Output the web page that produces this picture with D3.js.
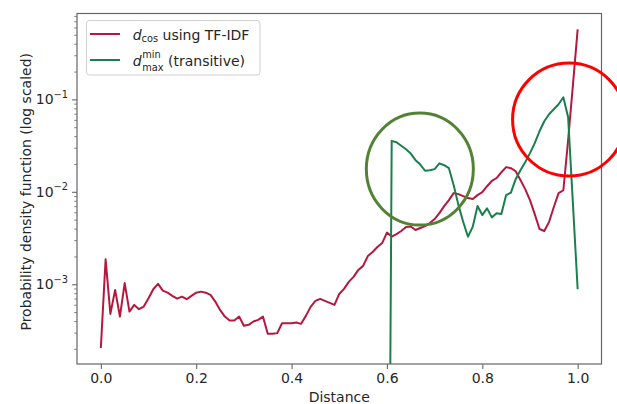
<!DOCTYPE html>
<html>
<head>
<meta charset="utf-8">
<script src="https://cdn.jsdelivr.net/npm/d3@7"></script>
<style>
  body { margin: 0; background: #fff; }
  svg { display: block; font-family: "DejaVu Sans", sans-serif; }
</style>
</head>
<body>
<svg id="svg" width="617" height="404"></svg>
<script>
// distance grid of the TF-IDF cosine curve (0.00 .. 1.00)
const distCos = [
  0.00, 0.01, 0.02, 0.03, 0.04, 0.05, 0.06, 0.07, 0.08, 0.09,
  0.10, 0.11, 0.12, 0.13, 0.14, 0.15, 0.16, 0.17, 0.18, 0.19,
  0.20, 0.21, 0.22, 0.23, 0.24, 0.25, 0.26, 0.27, 0.28, 0.29,
  0.30, 0.31, 0.32, 0.33, 0.34, 0.35, 0.36, 0.37, 0.38, 0.39,
  0.40, 0.41, 0.42, 0.43, 0.44, 0.45, 0.46, 0.47, 0.48, 0.49,
  0.50, 0.51, 0.52, 0.53, 0.54, 0.55, 0.56, 0.57, 0.58, 0.59,
  0.60, 0.61, 0.62, 0.63, 0.64, 0.65, 0.66, 0.67, 0.68, 0.69,
  0.70, 0.71, 0.72, 0.73, 0.74, 0.75, 0.76, 0.77, 0.78, 0.79,
  0.80, 0.81, 0.82, 0.83, 0.84, 0.85, 0.86, 0.87, 0.88, 0.89,
  0.90, 0.91, 0.92, 0.93, 0.94, 0.95, 0.96, 0.97, 0.98, 0.99,
  1.00
];
// pdf of d_cos using TF-IDF
const pdfCos = [
  2.04e-4, 1.86e-3, 4.78e-4, 8.68e-4, 4.47e-4, 1.03e-3, 5.06e-4, 5.98e-4, 5.37e-4, 5.73e-4,
  7.06e-4, 8.83e-4, 1.01e-3, 8.53e-4, 8.11e-4, 7.48e-4, 6.99e-4, 7.35e-4, 6.89e-4, 7.48e-4,
  8.11e-4, 8.32e-4, 8.11e-4, 7.66e-4, 6.49e-4, 5.28e-4, 4.47e-4, 4.05e-4, 4.05e-4, 4.47e-4,
  3.55e-4, 3.64e-4, 3.95e-4, 4.12e-4, 4.47e-4, 2.91e-4, 2.91e-4, 2.96e-4, 3.79e-4, 3.78e-4,
  3.79e-4, 3.85e-4, 3.73e-4, 4.55e-4, 5.69e-4, 6.60e-4, 6.94e-4, 6.60e-4, 6.28e-4, 5.98e-4,
  7.85e-4, 8.90e-4, 1.06e-3, 1.20e-3, 1.43e-3, 1.58e-3, 2.02e-3, 2.23e-3, 2.53e-3, 2.79e-3,
  3.62e-3, 3.28e-3, 3.49e-3, 3.77e-3, 4.16e-3, 4.21e-3, 3.86e-3, 4.06e-3, 4.26e-3, 4.59e-3,
  5.07e-3, 5.89e-3, 7.01e-3, 8.14e-3, 9.68e-3, 9.44e-3, 8.99e-3, 8.55e-3, 8.34e-3, 9.21e-3,
  9.93e-3, 1.15e-2, 1.31e-2, 1.41e-2, 1.63e-2, 1.85e-2, 1.80e-2, 1.67e-2, 1.34e-2, 1.07e-2,
  8.14e-3, 5.74e-3, 3.96e-3, 3.77e-3, 4.71e-3, 6.84e-3, 9.68e-3, 1.04e-2, 3.61e-2, 1.42e-1,
  5.71e-1
];

// distance grid of the transitive d_max^min curve (0.60 .. 1.00)
const distMax = [
  0.60, 0.61, 0.62, 0.63, 0.64, 0.65, 0.66, 0.67, 0.68, 0.69,
  0.70, 0.71, 0.72, 0.73, 0.74, 0.75, 0.76, 0.77, 0.78, 0.79,
  0.80, 0.81, 0.82, 0.83, 0.84, 0.85, 0.86, 0.87, 0.88, 0.89,
  0.90, 0.91, 0.92, 0.93, 0.94, 0.95, 0.96, 0.97, 0.98, 0.99,
  1.00
];
const pdfMax = [
  0,       3.56e-2, 3.44e-2, 3.15e-2, 2.89e-2, 2.59e-2, 2.20e-2, 1.97e-2, 1.69e-2, 1.71e-2,
  1.76e-2, 2.03e-2, 1.94e-2, 1.80e-2, 1.18e-2, 7.18e-3, 4.71e-3, 3.27e-3, 4.19e-3, 7.01e-3,
  5.60e-3, 6.62e-3, 5.29e-3, 5.85e-3, 5.74e-3, 9.21e-3, 9.80e-3, 1.37e-2, 1.71e-2, 2.09e-2,
  2.62e-2, 3.36e-2, 4.52e-2, 5.80e-2, 6.90e-2, 7.82e-2, 8.85e-2, 1.054e-1, 6.41e-2, 7.55e-3,
  8.83e-4
];

const xTicks = [0.0, 0.2, 0.4, 0.6, 0.8, 1.0];
const yMajorExp = [-3, -2, -1];
const legendLabels = ["cos", "using TF-IDF", "min", "max", "(transitive)"];

// hand-drawn highlight circles (data coords of centre, radii in px)
const highlights = [
  { x: 0.669, y: 0.0176, rx: 53.5, ry: 56, color: "#548235" },
  { x: 0.982, y: 0.0605, rx: 56.5, ry: 56.5, color: "#ff0000" }
];

const colCos = "#b5183f";
const colMax = "#1b7f4d";
const ink = "#262626";
const spineCol = "#666";

const svg = d3.select("#svg");
const plotLeft = 77, plotRight = 601.5, plotTop = 13.5, plotBottom = 364;

// matplotlib style 5% margins
const xScale = d3.scaleLinear().domain([-0.05, 1.05]).range([plotLeft, plotRight]);
const positives = pdfCos.concat(pdfMax).filter(v => v > 0);
const logExt = d3.extent(positives).map(Math.log10);
const pad = (logExt[1] - logExt[0]) * 0.05;
const yScale = d3
  .scaleLog()
  .domain([10 ** (logExt[0] - pad), 10 ** (logExt[1] + pad)])
  .range([plotBottom, plotTop]);

svg.append("defs")
  .append("clipPath")
  .attr("id", "plotclip")
  .append("rect")
  .attr("x", plotLeft)
  .attr("y", plotTop)
  .attr("width", plotRight - plotLeft)
  .attr("height", plotBottom - plotTop);

// non-positive values get pushed far below the axis, like mpl's clip
const floorVal = yScale.domain()[0] * 1e-6;
const line = d3
  .line()
  .x(d => xScale(d[0]))
  .y(d => yScale(Math.max(d[1], floorVal)));

const plot = svg.append("g").attr("clip-path", "url(#plotclip)");

plot.append("path")
  .attr("d", line(distCos.map((d, i) => [d, pdfCos[i]])))
  .attr("fill", "none")
  .attr("stroke", colCos)
  .attr("stroke-width", 2)
  .attr("stroke-linejoin", "round");

plot.append("path")
  .attr("d", line(distMax.map((d, i) => [d, pdfMax[i]])))
  .attr("fill", "none")
  .attr("stroke", colMax)
  .attr("stroke-width", 2)
  .attr("stroke-linejoin", "round");

// x axis
const xAxis = svg.append("g")
  .attr("transform", `translate(0, ${plotBottom})`)
  .call(d3.axisBottom(xScale).tickValues(xTicks).tickSize(4.9).tickPadding(4).tickFormat(d3.format(".1f")));
xAxis.select(".domain").remove();
xAxis.selectAll("line").attr("stroke", spineCol).attr("stroke-width", 1.1);
xAxis.selectAll("text").attr("font-size", 14).attr("fill", ink).attr("font-family", "DejaVu Sans");

// y axis: minor ticks then majors
const minorTicks = yScale.ticks().filter(v => Math.abs(Math.log10(v) - Math.round(Math.log10(v))) > 1e-6);
const yMinor = svg.append("g")
  .attr("transform", `translate(${plotLeft}, 0)`)
  .call(d3.axisLeft(yScale).tickValues(minorTicks).tickSize(2.8).tickFormat(""));
yMinor.select(".domain").remove();
yMinor.selectAll("line").attr("stroke", spineCol).attr("stroke-width", 0.8);

const yMajor = svg.append("g")
  .attr("transform", `translate(${plotLeft}, 0)`)
  .call(d3.axisLeft(yScale).tickValues(yMajorExp.map(e => 10 ** e)).tickSize(4.9).tickFormat(""));
yMajor.select(".domain").remove();
yMajor.selectAll("line").attr("stroke", spineCol).attr("stroke-width", 1.1);

yMajorExp.forEach(e => {
  const t = svg.append("text")
    .attr("x", plotLeft - 9)
    .attr("y", yScale(10 ** e) + 5)
    .attr("text-anchor", "end")
    .attr("font-size", 14)
    .attr("fill", ink);
  t.append("tspan").text("10");
  t.append("tspan").attr("dy", -6.5).attr("font-size", 9.8).text("\u2212" + Math.abs(e));
});

// frame
svg.append("rect")
  .attr("x", plotLeft)
  .attr("y", plotTop)
  .attr("width", plotRight - plotLeft)
  .attr("height", plotBottom - plotTop)
  .attr("fill", "none")
  .attr("stroke", spineCol)
  .attr("stroke-width", 1.2);

// axis titles
svg.append("text")
  .attr("x", (plotLeft + plotRight) / 2)
  .attr("y", 401.5)
  .attr("text-anchor", "middle")
  .attr("font-size", 14)
  .attr("fill", ink)
  .text("Distance");

svg.append("text")
  .attr("transform", `translate(31, ${(plotTop + plotBottom) / 2 + 3}) rotate(-90)`)
  .attr("text-anchor", "middle")
  .attr("font-size", 14)
  .attr("fill", ink)
  .text("Probability density function (log scaled)");

// legend
const legend = svg.append("g");
legend.append("rect")
  .attr("x", 86.5)
  .attr("y", 20.5)
  .attr("width", 173.5)
  .attr("height", 54.5)
  .attr("rx", 3)
  .attr("fill", "#fff")
  .attr("fill-opacity", 0.8)
  .attr("stroke", "#d0d0d0");

[[34, colCos], [60, colMax]].forEach(([yy, c]) => {
  legend.append("line")
    .attr("x1", 90).attr("x2", 120)
    .attr("y1", yy).attr("y2", yy)
    .attr("stroke", c).attr("stroke-width", 2);
});

const row1 = legend.append("text")
  .attr("x", 132.7).attr("y", 39.5)
  .attr("font-size", 14).attr("fill", ink);
row1.append("tspan").attr("font-style", "italic").text("d");
row1.append("tspan").attr("font-size", 9.8).attr("dy", 2.5).text(legendLabels[0]);
row1.append("tspan").attr("dy", -2.5).text("\u00a0" + legendLabels[1]);

const dSym = legend.append("text")
  .attr("x", 132.7).attr("y", 65.5)
  .attr("font-size", 14).attr("font-style", "italic").attr("fill", ink)
  .text("d");
const sx = 132.7 + dSym.node().getComputedTextLength() + 0.6;
legend.append("text")
  .attr("x", sx).attr("y", 57.5)
  .attr("font-size", 9.8).attr("fill", ink)
  .text(legendLabels[2]);
const maxSub = legend.append("text")
  .attr("x", sx).attr("y", 70.5)
  .attr("font-size", 9.8).attr("fill", ink)
  .text(legendLabels[3]);
legend.append("text")
  .attr("x", sx + maxSub.node().getComputedTextLength())
  .attr("y", 65.5)
  .attr("font-size", 14).attr("fill", ink)
  .text("\u00a0" + legendLabels[4]);

// highlight circles on top
svg.selectAll(".hl")
  .data(highlights)
  .enter()
  .append("ellipse")
  .attr("class", "hl")
  .attr("cx", d => xScale(d.x))
  .attr("cy", d => yScale(d.y))
  .attr("rx", d => d.rx)
  .attr("ry", d => d.ry)
  .attr("fill", "none")
  .attr("stroke", d => d.color)
  .attr("stroke-width", 3);
</script>
</body>
</html>
